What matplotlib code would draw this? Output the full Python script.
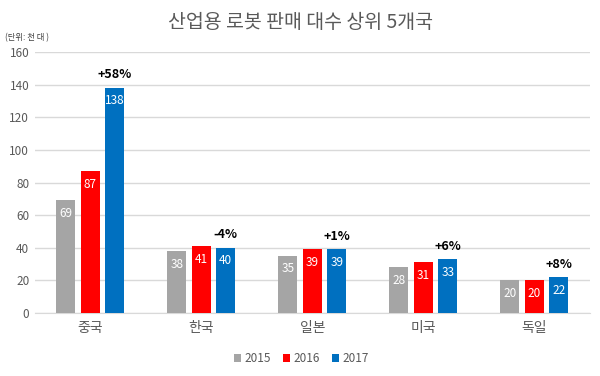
import numpy as np
import matplotlib.pyplot as plt

plt.rcParams['font.family'] = ['Noto Sans CJK KR', 'DejaVu Sans']

countries = ['중국', '한국', '일본', '미국', '독일']
years = ['2015', '2016', '2017']
v2015 = [69, 38, 35, 28, 20]
v2016 = [87, 41, 39, 31, 20]
v2017 = [138, 40, 39, 33, 22]
growth = ['+58%', '-4%', '+1%', '+6%', '+8%']

colors = ['#A5A5A5', '#FF0000', '#0070C0']

fig = plt.figure(figsize=(6, 3.76), dpi=100)
ax = fig.add_axes([0.058, 0.1676, 0.925, 0.694])

x = np.arange(len(countries))
w = 0.17
step = 0.22
series = [v2015, v2016, v2017]
for i, vals in enumerate(series):
    pos = x + (i - 1) * step
    ax.bar(pos, vals, w, color=colors[i], label=years[i], zorder=3)
    for p, v in zip(pos, vals):
        ax.text(p, v - 4, str(v), ha='center', va='top', color='white',
                fontsize=8.5, zorder=4)

for p, v, g in zip(x + step, v2017, growth):
    ax.text(p, v + 4, g, ha='center', va='bottom', fontsize=9,
            fontweight='bold', color='black')

ax.set_xlim(-0.5, 4.5)
ax.set_ylim(0, 160)
ax.set_yticks(range(0, 161, 20))
ax.set_xticks(x)
ax.set_xticklabels(countries, fontsize=10, color='#595959')
ax.tick_params(axis='y', labelsize=8.5, labelcolor='#595959', length=0, pad=4)
ax.tick_params(axis='x', length=0, pad=6)
ax.grid(axis='y', color='#D9D9D9', linewidth=1, zorder=0)
for s in ['top', 'right', 'left']:
    ax.spines[s].set_visible(False)
ax.spines['bottom'].set_color('#D9D9D9')

fig.text(0.5, 0.94, '산업용 로봇 판매 대수 상위 5개국', ha='center', va='center',
         fontsize=14, color='#595959')
fig.text(0.008, 0.9, '(단위: 천 대 )', ha='left', va='center', fontsize=6,
         color='#404040')

ax.legend(loc='upper center', bbox_to_anchor=(0.48, -0.11), ncol=3, frameon=False,
          fontsize=8.5, handlelength=0.6, handleheight=0.6, handletextpad=0.3,
          columnspacing=1.0, labelcolor='#595959')

fig.savefig('out.png', dpi=100)
